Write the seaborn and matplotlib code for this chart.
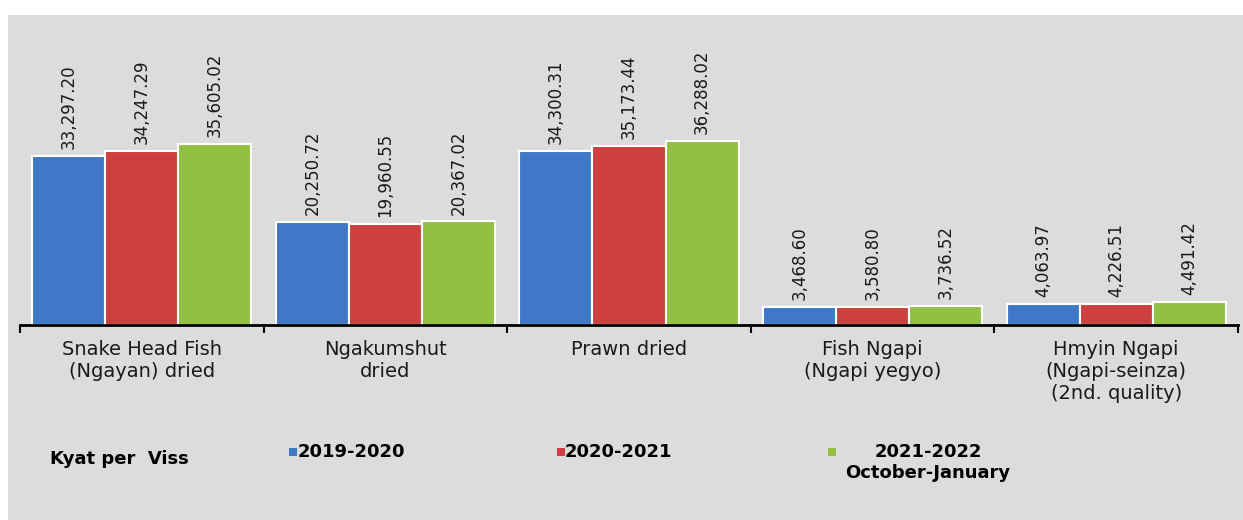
import matplotlib
matplotlib.use("Agg")
import matplotlib.pyplot as plt
import seaborn as sns
import pandas as pd
from matplotlib.patches import Rectangle

# chart data
categories = ["Snake Head Fish\n(Ngayan) dried", "Ngakumshut\ndried", "Prawn dried",
              "Fish Ngapi\n(Ngapi yegyo)", "Hmyin Ngapi\n(Ngapi-seinza)\n(2nd. quality)"]
seasons = ["2019-2020", "2020-2021", "2021-2022\nOctober-January"]
v2019 = [33297.20, 20250.72, 34300.31, 3468.60, 4063.97]
v2020 = [34247.29, 19960.55, 35173.44, 3580.80, 4226.51]
v2021 = [35605.02, 20367.02, 36288.02, 3736.52, 4491.42]
unit_label = "Kyat per  Viss"
colors = ["#4078c8", "#cc4040", "#92c041"]

df = pd.DataFrame({
    "item": categories * 3,
    "season": [s for s in seasons for _ in categories],
    "price": v2019 + v2020 + v2021,
})

sns.set_style("white")
plt.rcParams["font.family"] = ["DejaVu Sans"]

W, H = 1243, 520
fig = plt.figure(figsize=(W / 100, H / 100), dpi=100)
fig.patches.append(Rectangle((8 / W, 0), 1 - 8 / W, 1 - 15 / H, transform=fig.transFigure,
                             facecolor="#dcdcdc", edgecolor="none", zorder=-10))
ax = fig.add_axes([20 / W, 195 / H, 1218 / W, 310 / H])
ax.set_facecolor("none")

sns.barplot(data=df, x="item", y="price", hue="season", palette=colors, width=0.9,
            saturation=1, edgecolor="white", linewidth=1.5, errorbar=None,
            legend=False, ax=ax)

for cont, vals in zip(ax.containers, [v2019, v2020, v2021]):
    ax.bar_label(cont, labels=[f"{v:,.2f}" for v in vals], rotation=90, padding=5,
                 fontsize=12, color="#1a1a1a")

ax.set_xlim(-0.5, 4.5)
ax.set_ylim(0, 61000)
ax.set_xlabel("")
ax.set_ylabel("")
ax.set_yticks([])
for s in ["left", "top", "right"]:
    ax.spines[s].set_visible(False)
ax.spines["bottom"].set_color("black")
ax.spines["bottom"].set_linewidth(2)

ax.set_xticks(range(len(categories)))
ax.set_xticklabels(categories, fontsize=14, color="#1a1a1a", linespacing=1.2)
ax.set_xticks([i - 0.5 for i in range(len(categories) + 1)], minor=True)
ax.tick_params(axis="x", which="major", length=0, pad=11)
ax.tick_params(axis="x", which="minor", length=6, width=1.5, color="black", direction="out", bottom=True)

# legend drawn by hand, as in the original layout
fig.text(50 / W, 1 - 459 / H, unit_label, fontsize=13, fontweight="bold", va="center",
         ha="left", color="black")
legend_pos = [(289, 298, "left"), (557, 565, "left"), (828, 928, "center")]
for (mx, tx, ha), lab, col in zip(legend_pos, seasons, colors):
    fig.patches.append(Rectangle((mx / W, 1 - 456 / H), 8 / W, 8 / H, transform=fig.transFigure,
                                 facecolor=col, edgecolor="none"))
    fig.text(tx / W, 1 - 443 / H, lab, fontsize=13, fontweight="bold", va="top", ha=ha,
             linespacing=1.2, color="black")

fig.savefig("out.png", dpi=100)
